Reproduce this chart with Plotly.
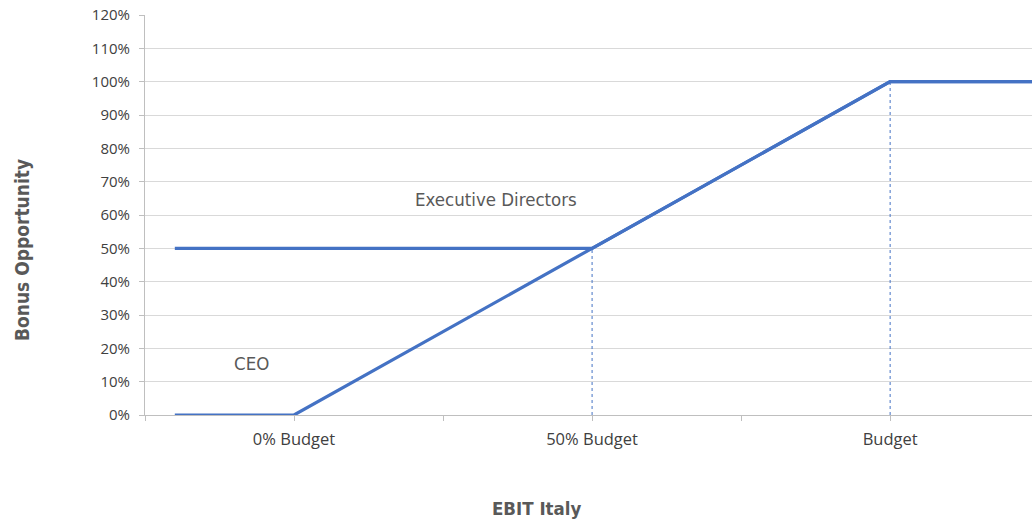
import plotly.graph_objects as go

# ---- data ----
ebit_x = [-20, 0, 50, 100, 125]
ceo_bonus = [0, 0, 50, 100, 100]
exec_x = [-20, 50, 100, 125]
exec_bonus = [50, 50, 100, 100]
ref_x = [50, 100]
ref_top = [50, 100]
tick_vals = [0, 50, 100]
tick_text = ["0% Budget", "50% Budget", "Budget"]
minor_vals = [-25, 25, 75, 125]
y_ticks = [0, 10, 20, 30, 40, 50, 60, 70, 80, 90, 100, 110, 120]

BLUE = "#4472C4"
NARROW = "Liberation Sans Narrow, DejaVu Sans Condensed, Roboto, sans-serif"

W, H = 1032, 526
L, T = 145, 15
PLOT_H = 400
B = H - T - PLOT_H
PLOT_W = W - L

fig = go.Figure()
fig.add_trace(go.Scatter(x=exec_x, y=exec_bonus, mode="lines",
                         line=dict(color=BLUE, width=3.2), name="Executive Directors"))
fig.add_trace(go.Scatter(x=ebit_x, y=ceo_bonus, mode="lines",
                         line=dict(color=BLUE, width=3.2), name="CEO"))
for xv, top in zip(ref_x, ref_top):
    fig.add_trace(go.Scatter(x=[xv, xv], y=[0, top], mode="lines",
                             line=dict(color=BLUE, width=1, dash="dot"), showlegend=False))

fig.update_layout(
    width=W, height=H,
    margin=dict(l=L, r=0, t=T, b=B),
    paper_bgcolor="white", plot_bgcolor="white",
    showlegend=False,
    xaxis=dict(range=[-25, 123.8], tickmode="array", tickvals=tick_vals, ticktext=tick_text,
               ticks="outside", ticklen=5, tickcolor="#bfbfbf", showgrid=False, zeroline=False,
               showline=True, linecolor="#bfbfbf", linewidth=1, automargin=False,
               tickfont=dict(family="Open Sans, sans-serif", size=16.5, color="#404040"),
               ticklabelstandoff=4,
               minor=dict(tickvals=minor_vals, ticks="outside", ticklen=5, tickcolor="#bfbfbf", showgrid=False)),
    yaxis=dict(range=[0, 120.01], tickmode="array", tickvals=y_ticks,
               ticktext=[f"{v}%" for v in y_ticks], ticks="outside", ticklen=5,
               tickcolor="#bfbfbf", showgrid=True, gridcolor="#d9d9d9", zeroline=False,
               showline=True, linecolor="#bfbfbf", linewidth=1, automargin=False,
               tickfont=dict(family="Open Sans, sans-serif", size=15, color="#404040"),
               ticklabelstandoff=6, ticklabeloverflow="allow"),
    annotations=[
        dict(x=33.9, y=64.8, xref="x", yref="y", text="Executive Directors", showarrow=False,
             xanchor="center", yanchor="middle",
             font=dict(family=NARROW, size=18.5, color="#595959")),
        dict(x=-7.2, y=15.6, xref="x", yref="y", text="CEO", showarrow=False,
             xanchor="center", yanchor="middle",
             font=dict(family=NARROW, size=18.5, color="#595959")),
        dict(x=(22 - 145) / PLOT_W, y=(415 - 250) / PLOT_H, xref="paper", yref="paper",
             text="<b>Bonus Opportunity</b>", textangle=-90, showarrow=False,
             xanchor="center", yanchor="middle",
             font=dict(family=NARROW, size=19, color="#595959")),
        dict(x=(536 - 145) / PLOT_W, y=-(509 - 415) / PLOT_H, xref="paper", yref="paper",
             text="<b>EBIT Italy</b>", showarrow=False, xanchor="center", yanchor="middle",
             font=dict(family=NARROW, size=18.5, color="#595959")),
    ],
)

fig.write_html("out.html", config={"displayModeBar": False},
               post_script="document.body.style.margin='0';document.body.style.overflow='hidden';")
